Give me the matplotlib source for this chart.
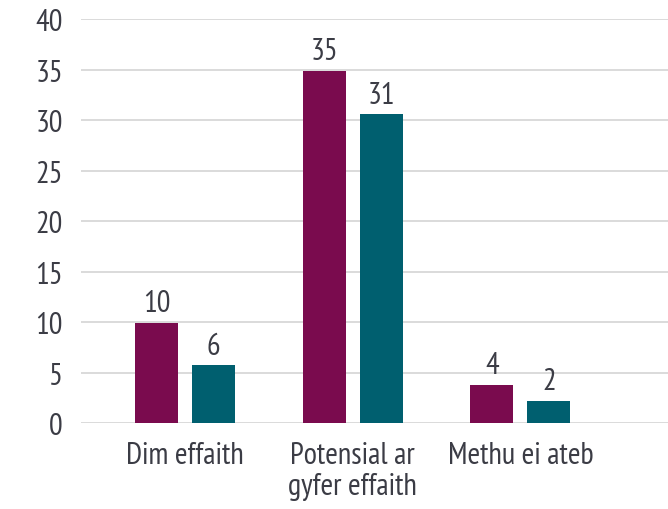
import numpy as np
import matplotlib.pyplot as plt

# values (labels shown rounded)
categories = ['Dim effaith', 'Potensial ar\ngyfer effaith', 'Methu ei ateb']
series_a = [9.95, 34.9, 3.8]
series_b = [5.7, 30.6, 2.2]
y_ticks = [0, 5, 10, 15, 20, 25, 30, 35, 40]

col_a = '#7a0b4e'
col_b = '#005f6f'
txt = '#3b3c45'
grid_col = '#d4d4d4'

plt.rcParams['font.family'] = ['PT Sans Narrow', 'DejaVu Sans']

fig = plt.figure(figsize=(6.68, 5.1), dpi=100)
ax = fig.add_axes([81/668, 1 - 424/510, 587/668, 403.7/510])

x = np.arange(len(categories))
off = 0.17
w = 0.256
bars_a = ax.bar(x - off, series_a, w, color=col_a, zorder=3)
bars_b = ax.bar(x + off, series_b, w, color=col_b, zorder=3)

for bars in (bars_a, bars_b):
    for b in bars:
        ax.annotate('{:.0f}'.format(round(b.get_height())),
                    (b.get_x() + b.get_width() / 2, b.get_height()),
                    xytext=(0, 4), textcoords='offset points',
                    ha='center', va='bottom', fontsize=22, color=txt)

ax.set_ylim(0, 40)
ax.set_xlim(-0.62, 2.88)
ax.set_yticks(y_ticks)
ax.set_xticks(x)
ax.set_xticklabels(categories, fontsize=22, color=txt, linespacing=1.15)
ax.tick_params(axis='y', labelsize=22, labelcolor=txt, length=0, pad=13)
ax.tick_params(axis='x', length=0, pad=13)
ax.grid(axis='y', color=grid_col, linewidth=1.2, zorder=0)
for s in ax.spines.values():
    s.set_visible(False)

fig.savefig('out.png', dpi=100)
